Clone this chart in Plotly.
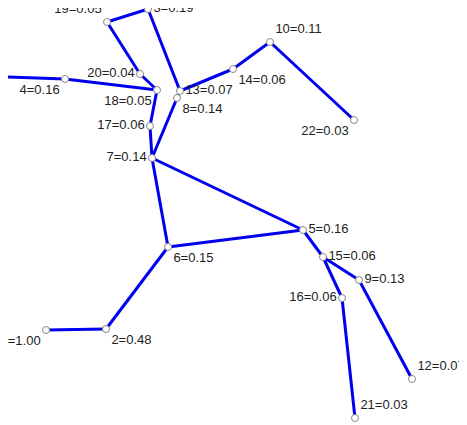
import plotly.graph_objects as go

node_ids = list(range(1, 23))
weights = [1.00, 0.48, 0.19, 0.16, 0.16, 0.15, 0.14, 0.14, 0.13, 0.11, 0.08,
           0.07, 0.07, 0.06, 0.06, 0.06, 0.06, 0.05, 0.05, 0.04, 0.03, 0.03]
xs = [46, 106, 148, 65, 303, 168, 152, 177, 359, 270, 7, 412, 180, 233, 323, 342, 150, 157, 107, 140, 355, 354]
ys = [330, 329, 9, 79, 230, 247, 158, 98, 280, 42, 77, 379, 91, 69, 257, 298, 126, 90, 22, 74, 418, 120]
edges = [(1, 2), (2, 6), (6, 5), (6, 7), (7, 5), (5, 15), (15, 9), (9, 12), (15, 16), (16, 21),
         (7, 17), (17, 18), (18, 4), (4, 11), (18, 20), (20, 19), (19, 3), (3, 13), (7, 8),
         (8, 13), (13, 14), (14, 10), (10, 22)]
positions = ["bottom left", "bottom right", "middle right", "bottom left", "middle right",
             "bottom right", "middle left", "bottom right", "middle right", "top right",
             "top right", "top right", "middle right", "bottom right", "middle right",
             "middle left", "middle left", "bottom left", "top left", "middle left",
             "top right", "bottom left"]

ex, ey = [], []
for a, b in edges:
    ex += [xs[a - 1], xs[b - 1], None]
    ey += [ys[a - 1], ys[b - 1], None]

fig = go.Figure()
fig.add_trace(go.Scatter(x=ex, y=ey, mode="lines", line=dict(color="#0000ee", width=3), hoverinfo="skip"))
fig.add_trace(go.Scatter(
    x=xs, y=ys, mode="markers+text", cliponaxis=False,
    text=[f"{i}={w:.2f}" for i, w in zip(node_ids, weights)],
    textposition=positions,
    textfont=dict(family="Liberation Sans, Arial", size=13, color="#222"),
    marker=dict(size=7, color="white", line=dict(color="#888", width=1)),
))
fig.update_layout(
    width=467, height=425, showlegend=False,
    margin=dict(l=0, r=0, t=0, b=0),
    plot_bgcolor="white", paper_bgcolor="white",
    xaxis=dict(range=[8, 475], visible=False),
    yaxis=dict(range=[433, 8], visible=False),
)
fig.write_html("out.html")
